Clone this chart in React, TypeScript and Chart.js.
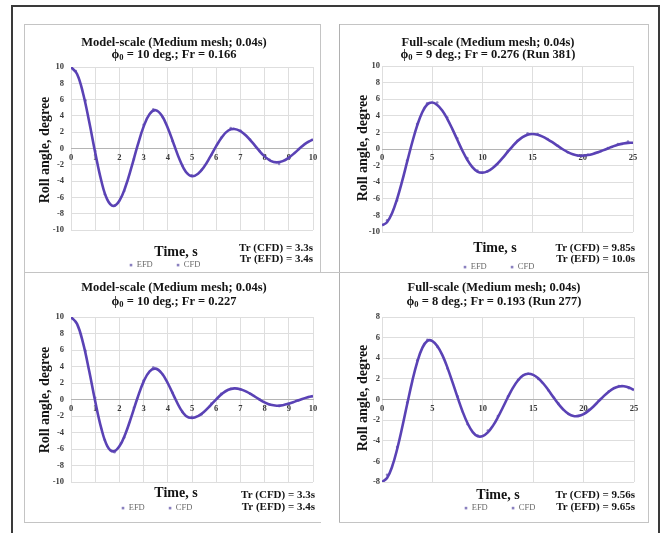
import React, { useEffect, useRef } from "react";
import { Chart, registerables } from "chart.js";
Chart.register(...registerables);

const FONT = '"Liberation Serif", "Times New Roman", "DejaVu Serif", serif';

// ---------- data ----------
const MODEL_TIME = [0, 0.25, 0.5, 0.75, 1, 1.25, 1.5, 1.75, 2, 2.25, 2.5, 2.75, 3, 3.25, 3.5, 3.75, 4, 4.25, 4.5, 4.75, 5, 5.25, 5.5, 5.75, 6, 6.25, 6.5, 6.75, 7, 7.25, 7.5, 7.75, 8, 8.25, 8.5, 8.75, 9, 9.25, 9.5, 9.75, 10];
const FULL_TIME = [0, 0.5, 1, 1.5, 2, 2.5, 3, 3.5, 4, 4.5, 5, 5.5, 6, 6.5, 7, 7.5, 8, 8.5, 9, 9.5, 10, 10.5, 11, 11.5, 12, 12.5, 13, 13.5, 14, 14.5, 15, 15.5, 16, 16.5, 17, 17.5, 18, 18.5, 19, 19.5, 20, 20.5, 21, 21.5, 22, 22.5, 23, 23.5, 24, 24.5, 25];

const MODEL_EFD_TIME = [0.2, 0.6, 1.0, 1.4, 1.8, 2.2, 2.6, 3.0, 3.4, 3.8, 4.2, 4.6, 5.0, 5.4, 5.8, 6.2, 6.6, 7.0, 7.4, 7.8, 8.2, 8.6, 9.0, 9.4, 9.8];
const FULL_EFD_TIME = [0.5, 1.5, 2.5, 3.5, 4.5, 5.5, 6.5, 7.5, 8.5, 9.5, 10.5, 11.5, 12.5, 13.5, 14.5, 15.5, 16.5, 17.5, 18.5, 19.5, 20.5, 21.5, 22.5, 23.5, 24.5];

// Panel 1: Model-scale, Fr = 0.166
const P1_CFD = [10, 9.15, 6.75, 3.3, -0.5, -3.93, -6.27, -7.05, -6.41, -4.7, -2.29, 0.35, 2.68, 4.23, 4.7, 4.05, 2.53, 0.52, -1.45, -2.88, -3.4, -3.1, -2.25, -1.03, 0.29, 1.45, 2.21, 2.4, 2.13, 1.53, 0.71, -0.18, -0.97, -1.51, -1.7, -1.55, -1.12, -0.52, 0.15, 0.73, 1.1];
const P1_EFD = [9.5, 5.9, -0.3, -5.6, -7.0, -5.2, -1.3, 2.9, 4.8, 3.8, 0.9, -2.1, -3.3, -2.6, -0.8, 1.3, 2.5, 2.2, 1.1, -0.3, -1.4, -1.9, -1.2, -0.1, 0.8];

// Panel 2: Full-scale, Run 381
const P2_CFD = [-9.2, -8.82, -7.73, -6.03, -3.91, -1.56, 0.75, 2.82, 4.4, 5.36, 5.6, 5.3, 4.63, 3.64, 2.43, 1.11, -0.18, -1.32, -2.19, -2.72, -2.85, -2.69, -2.32, -1.77, -1.1, -0.38, 0.33, 0.96, 1.44, 1.73, 1.8, 1.71, 1.49, 1.17, 0.79, 0.38, -0.03, -0.37, -0.63, -0.78, -0.8, -0.73, -0.59, -0.4, -0.17, 0.07, 0.31, 0.51, 0.65, 0.74, 0.75];
const P2_EFD = [-8.6, -6.2, -1.4, 3.0, 5.5, 5.6, 3.8, 1.3, -1.1, -2.6, -2.7, -1.8, -0.3, 1.0, 1.9, 1.8, 1.2, 0.4, -0.4, -0.8, -0.7, -0.4, 0.1, 0.6, 0.9];

// Panel 3: Model-scale, Fr = 0.227
const P3_CFD = [10, 9.17, 6.83, 3.48, -0.21, -3.47, -5.64, -6.29, -5.67, -4.14, -2.04, 0.21, 2.17, 3.42, 3.74, 3.18, 1.97, 0.44, -1.01, -1.99, -2.24, -2.01, -1.48, -0.76, 0.02, 0.71, 1.18, 1.35, 1.25, 0.95, 0.53, 0.07, -0.35, -0.65, -0.75, -0.69, -0.51, -0.26, 0.01, 0.25, 0.41];
const P3_EFD = [9.4, 5.9, 0.2, -4.9, -6.4, -4.6, -1.0, 2.3, 3.9, 3.0, 0.8, -1.5, -2.1, -1.8, -0.5, 0.7, 1.3, 1.2, 0.7, 0.0, -0.6, -0.8, -0.5, -0.1, 0.3];

// Panel 4: Full-scale, Run 277
const P4_CFD = [-8, -7.62, -6.52, -4.82, -2.72, -0.44, 1.76, 3.65, 5.01, 5.69, 5.67, 5.17, 4.28, 3.07, 1.66, 0.2, -1.18, -2.33, -3.16, -3.56, -3.54, -3.19, -2.56, -1.72, -0.75, 0.24, 1.15, 1.87, 2.34, 2.5, 2.39, 2.06, 1.55, 0.92, 0.23, -0.43, -0.99, -1.4, -1.6, -1.59, -1.41, -1.08, -0.65, -0.16, 0.33, 0.76, 1.09, 1.27, 1.29, 1.17, 0.92];
const P4_EFD = [-7.3, -4.6, -0.3, 3.8, 5.8, 5.1, 3.0, 0.3, -2.4, -3.5, -3.0, -1.6, 0.3, 1.9, 2.5, 2.0, 0.9, -0.4, -1.4, -1.6, -1.0, -0.1, 0.8, 1.3, 1.1];

// axis ranges [min, max, step]
const MODEL_X_AXIS = [0, 10, 1];
const FULL_X_AXIS = [0, 25, 5];
const Y_AXIS_10 = [-10, 10, 2];
const Y_AXIS_8 = [-8, 8, 2];

const TITLES_1 = ["Model-scale (Medium mesh; 0.04s)", "Full-scale (Medium mesh; 0.04s)", "Model-scale (Medium mesh; 0.04s)", "Full-scale (Medium mesh; 0.04s)"];
const TITLES_2 = [" = 10 deg.; Fr = 0.166", " = 9 deg.; Fr = 0.276 (Run 381)", " = 10 deg.; Fr = 0.227", " = 8 deg.; Fr = 0.193 (Run 277)"];
const TR_CFD = ["3.3s", "9.85s", "3.3s", "9.56s"];
const TR_EFD = ["3.4s", "10.0s", "3.4s", "9.65s"];

type Spec = {
  left: number; top: number; width: number; height: number;
  pl: number; pt: number; pr: number; pb: number;
  xAxis: number[]; yAxis: number[];
  time: number[]; cfd: number[]; efdT: number[]; efd: number[];
  idx: number;
  titleX: number; t1Y: number; t2Y: number;
  yTitleX: number; yTitleY: number;
  timeX: number; timeY: number;
  legX: number; legY: number;
  trX: number; trY1: number; trY2: number;
  tickPad: number;
};

const SPECS: Spec[] = [
  { left: 25, top: 25, width: 295, height: 247, pl: 71, pt: 67, pr: 313, pb: 230, xAxis: MODEL_X_AXIS, yAxis: Y_AXIS_10, time: MODEL_TIME, cfd: P1_CFD, efdT: MODEL_EFD_TIME, efd: P1_EFD, idx: 0,
    titleX: 174, t1Y: 43, t2Y: 55, yTitleX: 45, yTitleY: 150, timeX: 176, timeY: 252, legX: 165, legY: 265, trX: 313, trY1: 248, trY2: 259.5, tickPad: 7 },
  { left: 340, top: 25, width: 307, height: 247, pl: 382, pt: 66, pr: 633, pb: 232, xAxis: FULL_X_AXIS, yAxis: Y_AXIS_10, time: FULL_TIME, cfd: P2_CFD, efdT: FULL_EFD_TIME, efd: P2_EFD, idx: 1,
    titleX: 488, t1Y: 43, t2Y: 55, yTitleX: 363, yTitleY: 148, timeX: 495, timeY: 248, legX: 499, legY: 267, trX: 635, trY1: 248, trY2: 259, tickPad: 2 },
  { left: 25, top: 274, width: 295, height: 248, pl: 71, pt: 317, pr: 313, pb: 482, xAxis: MODEL_X_AXIS, yAxis: Y_AXIS_10, time: MODEL_TIME, cfd: P3_CFD, efdT: MODEL_EFD_TIME, efd: P3_EFD, idx: 2,
    titleX: 174, t1Y: 288, t2Y: 302, yTitleX: 45, yTitleY: 400, timeX: 176, timeY: 493, legX: 157, legY: 508, trX: 315, trY1: 495, trY2: 507, tickPad: 7 },
  { left: 341, top: 274, width: 307, height: 248, pl: 382, pt: 317, pr: 634, pb: 482, xAxis: FULL_X_AXIS, yAxis: Y_AXIS_8, time: FULL_TIME, cfd: P4_CFD, efdT: FULL_EFD_TIME, efd: P4_EFD, idx: 3,
    titleX: 494, t1Y: 288, t2Y: 302, yTitleX: 363, yTitleY: 398, timeX: 498, timeY: 495, legX: 500, legY: 508, trX: 635, trY1: 495, trY2: 507, tickPad: 2 },
];

const Y_AXIS_W = 28;

function makeTextPlugin(s: Spec) {
  return {
    id: "panelText" + s.idx,
    afterDraw(chart: any) {
      const ctx = chart.ctx as CanvasRenderingContext2D;
      const X = (x: number) => x - s.left;
      const Y = (y: number) => y - s.top;
      ctx.save();
      ctx.fillStyle = "#141414";
      ctx.textBaseline = "middle";
      // title line 1
      ctx.font = `bold 12.5px ${FONT}`;
      ctx.textAlign = "center";
      ctx.fillText(TITLES_1[s.idx], X(s.titleX), Y(s.t1Y));
      // title line 2 with phi_0
      const big = `bold 12.5px ${FONT}`;
      const small = `bold 8.5px ${FONT}`;
      ctx.font = big;
      const w1 = ctx.measureText("\u03d5").width;
      const w3 = ctx.measureText(TITLES_2[s.idx]).width;
      ctx.font = small;
      const w2 = ctx.measureText("0").width;
      let x = X(s.titleX) - (w1 + w2 + w3) / 2;
      ctx.textAlign = "left";
      ctx.font = big;
      ctx.fillText("\u03d5", x, Y(s.t2Y));
      x += w1;
      ctx.font = small;
      ctx.fillText("0", x, Y(s.t2Y) + 3);
      x += w2;
      ctx.font = big;
      ctx.fillText(TITLES_2[s.idx], x, Y(s.t2Y));
      // y title
      ctx.save();
      ctx.translate(X(s.yTitleX), Y(s.yTitleY));
      ctx.rotate(-Math.PI / 2);
      ctx.font = `bold 14px ${FONT}`;
      ctx.textAlign = "center";
      ctx.fillText("Roll angle, degree", 0, 0);
      ctx.restore();
      // x title
      ctx.font = `bold 14px ${FONT}`;
      ctx.textAlign = "center";
      ctx.fillText("Time, s", X(s.timeX), Y(s.timeY));
      // Tr annotations
      ctx.font = `bold 11px ${FONT}`;
      ctx.textAlign = "right";
      ctx.fillText(`Tr (CFD) = ${TR_CFD[s.idx]}`, X(s.trX), Y(s.trY1));
      ctx.fillText(`Tr (EFD) = ${TR_EFD[s.idx]}`, X(s.trX), Y(s.trY2));
      // legend
      ctx.font = `8.5px ${FONT}`;
      ctx.textAlign = "left";
      const items = ["EFD", "CFD"];
      const gap = 24;
      const ws = items.map((t) => ctx.measureText(t).width + 7);
      const total = ws[0] + ws[1] + gap;
      let lx = X(s.legX) - total / 2;
      items.forEach((t, i) => {
        ctx.fillStyle = "#8a80bf";
        ctx.fillRect(lx, Y(s.legY) - 1.2, 2.6, 2.6);
        ctx.fillStyle = "#6a6a6a";
        ctx.fillText(t, lx + 7, Y(s.legY));
        lx += ws[i] + gap;
      });
      ctx.restore();
    },
  };
}

function zeroPad(sc: any) {
  sc.paddingLeft = 0;
  sc.paddingRight = 0;
  sc.paddingTop = 0;
  sc.paddingBottom = 0;
}

function Panel({ s }: { s: Spec }) {
  const ref = useRef<HTMLCanvasElement>(null);
  useEffect(() => {
    const tickFont = { family: FONT, size: 8.5, weight: "bold" as const };
    const chart = new Chart(ref.current!, {
      type: "line",
      data: {
        datasets: [
          {
            label: "CFD",
            data: s.time.map((t, i) => ({ x: t, y: s.cfd[i] })),
            borderColor: "#5a42b5",
            backgroundColor: "#5a42b5",
            borderWidth: 2.6,
            pointRadius: 0,
            tension: 0.4,
            fill: false,
            order: 1,
          },
          {
            label: "EFD",
            data: s.efdT.map((t, i) => ({ x: t, y: s.efd[i] })),
            showLine: false,
            pointRadius: 1.3,
            pointBorderWidth: 0,
            pointBackgroundColor: "#8f86c2",
            borderColor: "#8f86c2",
            order: 2,
          },
        ],
      },
      options: {
        responsive: false,
        animation: false,
        events: [],
        layout: {
          padding: {
            left: s.pl - s.left - Y_AXIS_W,
            top: s.pt - s.top,
            right: s.left + s.width - s.pr,
            bottom: s.top + s.height - s.pb,
          },
        },
        plugins: {
          legend: { display: false },
          title: { display: false },
          tooltip: { enabled: false },
        },
        scales: {
          x: {
            type: "linear",
            min: s.xAxis[0],
            max: s.xAxis[1],
            position: { y: 0 } as any,
            ticks: { stepSize: s.xAxis[2], autoSkip: false, padding: 4, font: tickFont, color: "#3a3a3a", maxRotation: 0 },
            grid: { color: "#dedede", drawTicks: false, lineWidth: 1 },
            border: { color: "#b4b4b4", width: 1 },
            afterFit: (sc: any) => zeroPad(sc),
          },
          y: {
            type: "linear",
            min: s.yAxis[0],
            max: s.yAxis[1],
            ticks: { stepSize: s.yAxis[2], padding: s.tickPad, font: tickFont, color: "#3a3a3a" },
            grid: { color: "#dedede", drawTicks: false, lineWidth: 1 },
            border: { display: false },
            afterFit: (sc: any) => {
              sc.width = Y_AXIS_W;
              zeroPad(sc);
            },
          },
        },
      },
      plugins: [makeTextPlugin(s)],
    } as any);
    return () => chart.destroy();
  }, [s]);
  return (
    <canvas
      ref={ref}
      width={s.width}
      height={s.height}
      style={{ position: "absolute", left: s.left, top: s.top, width: s.width, height: s.height }}
    />
  );
}

const line = (l: number, t: number, w: number, h: number, c: string) => (
  <div style={{ position: "absolute", left: l, top: t, width: w, height: h, background: c }} />
);

export default function App() {
  const pc = "#c4c4c4";
  return (
    <div style={{ position: "absolute", left: 0, top: 0, width: 661, height: 533, background: "#fff", overflow: "hidden" }}>
      {/* outer frame */}
      {line(11, 5, 648, 1.5, "#3a3a3a")}
      {line(11, 5, 1.5, 528, "#3a3a3a")}
      {line(658, 5, 1.5, 528, "#3a3a3a")}
      {/* panel boxes */}
      {line(24, 24, 296, 1, pc)}
      {line(24, 24, 1, 498, pc)}
      {line(320, 24, 1, 248, pc)}
      {line(24, 272, 316, 1, pc)}
      {line(24, 522, 297, 1, pc)}
      {line(339, 24, 309, 1, pc)}
      {line(339, 24, 1, 498, "#b0b0b0")}
      {line(648, 24, 1, 498, pc)}
      {line(339, 272, 310, 1, pc)}
      {line(339, 522, 310, 1, pc)}
      {SPECS.map((s) => (
        <Panel key={s.idx} s={s} />
      ))}
    </div>
  );
}
